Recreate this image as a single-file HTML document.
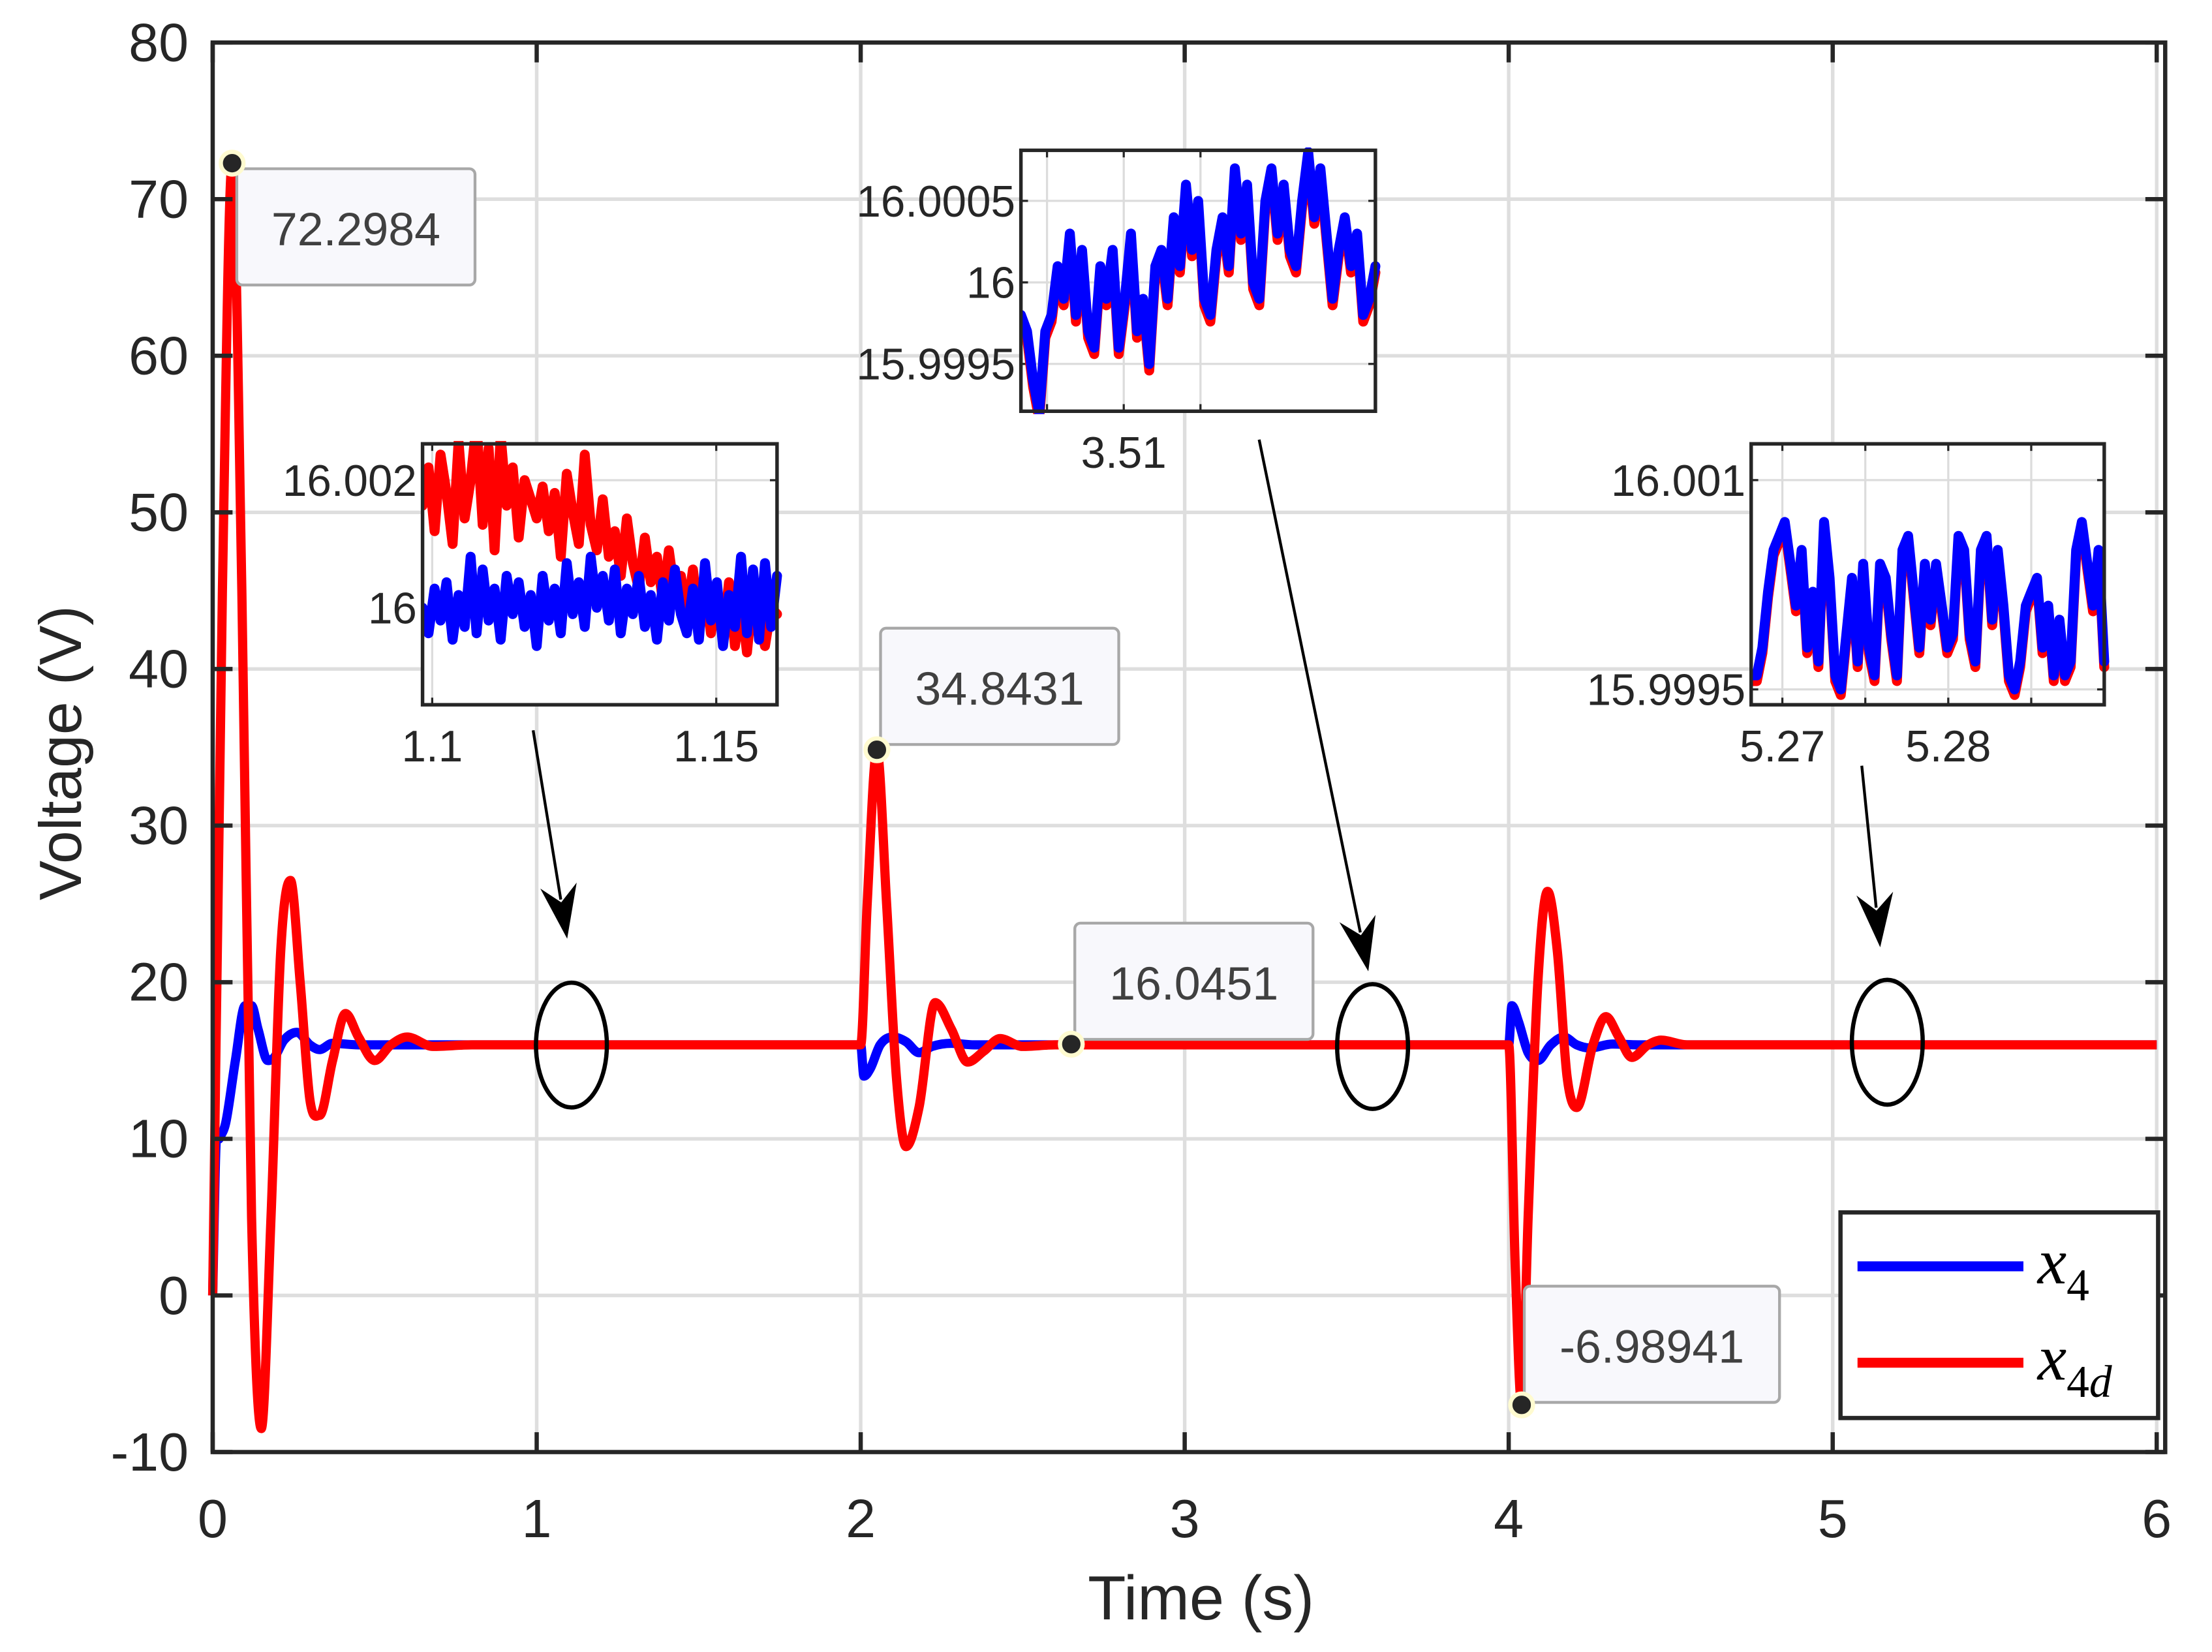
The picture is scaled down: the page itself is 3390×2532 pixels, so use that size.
<!DOCTYPE html>
<html><head><meta charset="utf-8"><style>
html,body{margin:0;padding:0;background:#fff;}
svg{display:block;}
text{font-family:"Liberation Sans",sans-serif;fill:#262626;}
</style></head><body>
<svg id="chart" xmlns="http://www.w3.org/2000/svg" width="3390" height="2532" viewBox="0 0 1560 1165" preserveAspectRatio="none">
<rect x="0" y="0" width="1560" height="1165" fill="#fff"/>
<g id="grid"></g>
<g id="series"></g>
<g id="axes"></g>
<g id="annot"></g>
<g id="insets"></g>
<text x="847" y="1142" font-size="44" text-anchor="middle">Time (s)</text>
<text x="0" y="0" font-size="42" text-anchor="middle" transform="translate(57,531) rotate(-90)">Voltage (V)</text>
<g>
<rect x="1298" y="855" width="224" height="145" fill="#fff" stroke="#262626" stroke-width="3"/>
<line x1="1310" y1="893" x2="1427" y2="893" stroke="#0000ff" stroke-width="7"/>
<line x1="1310" y1="961" x2="1427" y2="961" stroke="#ff0000" stroke-width="7"/>
<text x="1437" y="905" font-size="46" font-style="italic" style="font-family:'Liberation Serif',serif;fill:#000">x<tspan font-size="32" font-style="normal" dy="12">4</tspan></text>
<text x="1437" y="973" font-size="46" font-style="italic" style="font-family:'Liberation Serif',serif;fill:#000">x<tspan font-size="32" font-style="normal" dy="12">4</tspan><tspan font-size="32" font-style="italic">d</tspan></text>
</g>
</svg>
<script>
// ---- main chart data ----
const xTicks=[0,1,2,3,4,5,6];
const yTicks=[-10,0,10,20,30,40,50,60,70,80];
const redT=[0,0.03,0.06,0.09,0.12,0.15,0.18,0.21,0.24,0.27,0.30,0.33,0.37,0.41,0.45,0.50,0.55,0.60,0.68,0.80,2.0,2.02,2.05,2.08,2.11,2.14,2.18,2.23,2.28,2.33,2.38,2.43,2.50,2.6,4.0,4.02,4.04,4.06,4.09,4.12,4.15,4.18,4.21,4.26,4.30,4.34,4.38,4.43,4.47,4.55,6.0];
const redV=[0,45,72.3,45,5,-8.5,5,22,26.5,20,12.5,11.5,15,18,16.5,15,16,16.5,15.9,16,16,25,34.8,25,14,9.5,12,18.7,17,14.9,15.6,16.4,15.9,16,16,2,-7,5,20,25.8,22,14,12,16,17.8,16.5,15.2,16,16.3,16,16];
const blueT=[0,0.01,0.02,0.04,0.07,0.10,0.12,0.14,0.17,0.19,0.22,0.26,0.30,0.33,0.37,0.45,0.6,2.0,2.01,2.03,2.06,2.10,2.14,2.18,2.22,2.28,2.35,4.0,4.01,4.03,4.06,4.09,4.13,4.17,4.21,4.25,4.32,4.4,6.0];
const blueV=[0,9.5,10,11,15,18.5,18.5,17,15,15.2,16.3,16.8,16,15.7,16.1,16,16,16,14,14.5,16,16.5,16.2,15.5,15.9,16.1,16,16,18.5,17.5,15.5,15,16,16.5,16,15.8,16.05,16,16];
const tipT=[0.06,2.05,2.65,4.04];
const tipV=[72.2984,34.8431,16.0451,-6.98941];
const tipLabels=["72.2984","34.8431","16.0451","-6.98941"];
// ---- inset data (deviation from 16 V in units of 1e-4 V) ----
const in1Red=[16,22,12,24,18,10,26,14,20,29,13,25,9,27,16,22,11,20,17,14,19,12,18,8,21,15,10,24,13,9,17,8,12,5,14,7,3,11,4,8,1,9,2,5,-1,6,-3,3,-4,2,-5,4,-6,1,-7,3,-2,-6,0,-1];
const in1Blue=[0,-4,3,-2,4,-5,2,-3,8,-4,6,-2,3,-5,5,-1,4,-3,2,-6,5,-2,3,-4,7,-1,4,-3,8,0,5,-2,6,-4,3,-1,5,-3,2,-5,4,-2,6,-1,-4,3,-5,7,-2,4,-6,2,-3,8,-4,6,-5,7,-3,5];
const in2Blue=[-2,-3,-6,-8,-3,-2,1,-1,3,-2,2,-3,-4,1,-1,2,-4,-1,3,-3,-1,-5,1,2,-1,4,1,6,2,5,-1,-2,2,4,1,7,3,6,0,-1,5,7,3,6,2,1,5,8,4,7,3,-1,2,4,1,3,-2,-1,1];
const in2Red=[-2.4,-3.4,-6.4,-8.4,-3.4,-2.4,0.6,-1.4,2.6,-2.4,1.6,-3.4,-4.4,0.6,-1.4,1.6,-4.4,-1.4,2.6,-3.4,-1.4,-5.4,0.6,1.6,-1.4,3.6,0.6,5.6,1.6,4.6,-1.4,-2.4,1.6,3.6,0.6,6.6,2.6,5.6,-0.4,-1.4,4.6,6.6,2.6,5.6,1.6,0.6,4.6,7.6,3.6,6.6,2.6,-1.4,1.6,3.6,0.6,2.6,-2.4,-1.4,0.6];
const in3Blue=[-4,-4,-2,2,5,6,7,4,1,5,-2,2,-3,7,3,-4,-5,-1,3,-3,4,-2,-4,4,3,-1,-4,5,6,2,-2,4,0,4,1,-2,-1,6,5,-1,-3,5,6,0,5,1,-4,-5,-3,1,2,3,-2,1,-4,0,-4,-3,5,7,4,1,5,-3];
const in3Red=[-4.4,-4.4,-2.4,1.6,4.6,5.6,6.6,3.6,0.6,4.6,-2.4,1.6,-3.4,6.6,2.6,-4.4,-5.4,-1.4,2.6,-3.4,3.6,-2.4,-4.4,3.6,2.6,-1.4,-4.4,4.6,5.6,1.6,-2.4,3.6,-0.4,3.6,0.6,-2.4,-1.4,5.6,4.6,-1.4,-3.4,4.6,5.6,-0.4,4.6,0.6,-4.4,-5.4,-3.4,0.6,1.6,2.6,-2.4,0.6,-4.4,-0.4,-4.4,-3.4,4.6,6.6,3.6,0.6,4.6,-3.4];

const NS='http://www.w3.org/2000/svg';
function mk(tag,attrs,parent){const e=document.createElementNS(NS,tag);for(const k in attrs)e.setAttribute(k,attrs[k]);parent.appendChild(e);return e;}
const L=150,R=1527,T=30,B=1024;
const X0=150,X6=1521;
const xs=t=>X0+t*(X6-X0)/6;
const ys=v=>T+(80-v)*(B-T)/90;
function spline(pts){
  const n=pts.length,m=[];
  for(let i=0;i<n;i++){
    if(i===0)m.push((pts[1][1]-pts[0][1])/(pts[1][0]-pts[0][0]));
    else if(i===n-1)m.push((pts[n-1][1]-pts[n-2][1])/(pts[n-1][0]-pts[n-2][0]));
    else{
      const s0=(pts[i][1]-pts[i-1][1])/(pts[i][0]-pts[i-1][0]);
      const s1=(pts[i+1][1]-pts[i][1])/(pts[i+1][0]-pts[i][0]);
      m.push(s0*s1<=0?0:(s0+s1)/2);
    }
  }
  let d='M'+pts[0][0].toFixed(2)+','+pts[0][1].toFixed(2);
  for(let i=0;i<n-1;i++){
    const dx=(pts[i+1][0]-pts[i][0])/3;
    d+=' C'+(pts[i][0]+dx).toFixed(2)+','+(pts[i][1]+m[i]*dx).toFixed(2)+' '+(pts[i+1][0]-dx).toFixed(2)+','+(pts[i+1][1]-m[i+1]*dx).toFixed(2)+' '+pts[i+1][0].toFixed(2)+','+pts[i+1][1].toFixed(2);
  }
  return d;
}
const grid=document.getElementById('grid'),axes=document.getElementById('axes'),series=document.getElementById('series'),annot=document.getElementById('annot'),insets=document.getElementById('insets');
xTicks.forEach(t=>{
  const gl=mk('line',{x1:xs(t),x2:xs(t),y1:T,y2:B,stroke:'#dedede','stroke-width':2.5},grid);
  
  
  mk('line',{x1:xs(t),x2:xs(t),y1:B,y2:B-14,stroke:'#262626','stroke-width':3},axes);
  mk('line',{x1:xs(t),x2:xs(t),y1:T,y2:T+14,stroke:'#262626','stroke-width':3},axes);
  const tx=mk('text',{x:xs(t),y:1084,'font-size':38,'text-anchor':'middle'},axes);
  tx.textContent=String(t);
  
  
});
yTicks.forEach(v=>{
  if(v>-10&&v<80){
    const gl=mk('line',{x1:L,x2:R,y1:ys(v),y2:ys(v),stroke:'#dedede','stroke-width':2.5},grid);
    
    
  }
  mk('line',{x1:L,x2:L+14,y1:ys(v),y2:ys(v),stroke:'#262626','stroke-width':3},axes);
  mk('line',{x1:R,x2:R-14,y1:ys(v),y2:ys(v),stroke:'#262626','stroke-width':3},axes);
  const tx=mk('text',{x:133,y:ys(v)+13,'font-size':38,'text-anchor':'end'},axes);
  tx.textContent=String(v);
  
  
});
const frame=mk('rect',{x:L,y:T,width:R-L,height:B-T,fill:'none',stroke:'#262626','stroke-width':3},axes);



const bp=blueT.map((t,i)=>[xs(t),ys(blueV[i])]);
const blueLine=mk('path',{d:spline(bp),fill:'none',stroke:'#0000ff','stroke-width':6.5,'stroke-linejoin':'round'},series);


const rp=redT.map((t,i)=>[xs(t),ys(redV[i])]);
const redLine=mk('path',{d:spline(rp),fill:'none',stroke:'#ff0000','stroke-width':6.5,'stroke-linejoin':'round'},series);



const ellipses=[[403,737],[968,738],[1331,735]];
ellipses.forEach(c=>{
  const e=mk('ellipse',{cx:c[0],cy:c[1],rx:25,ry:44,fill:'none',stroke:'#000','stroke-width':3},annot);
  
  
});
const arrows=[[376,515,400,662],[888,310,965,685],[1313,540,1326,668]];
arrows.forEach(a=>{
  const g=mk('g',{},annot);
  
  
  const dx=a[2]-a[0],dy=a[3]-a[1],len=Math.hypot(dx,dy),ux=dx/len,uy=dy/len;
  const bx=a[2]-ux*38,by=a[3]-uy*38;
  mk('line',{x1:a[0],y1:a[1],x2:bx+ux*10,y2:by+uy*10,stroke:'#000','stroke-width':2},g);
  const nx=-uy,ny=ux;
  const pts=[[a[2],a[3]],[bx+nx*13,by+ny*13],[a[2]-ux*26,a[3]-uy*26],[bx-nx*13,by-ny*13]];
  mk('polygon',{points:pts.map(p=>p.join(',')).join(' '),fill:'#000'},g);
});
const tipBoxes=[[167,119,168],[621,443,168],[758,651,168],[1075,907,180]];
tipT.forEach((t,i)=>{
  const g=mk('g',{},annot);
  
  
  const b=tipBoxes[i];
  mk('rect',{x:b[0],y:b[1],width:b[2],height:82,rx:4,fill:'#f8f8fc',stroke:'#a8a8a8','stroke-width':2},g);
  const tx=mk('text',{x:b[0]+b[2]/2,y:b[1]+54,'font-size':33,'text-anchor':'middle',style:'fill:#404040'},g);
  tx.textContent=tipLabels[i];
  mk('circle',{cx:xs(t),cy:ys(tipV[i]),r:8,fill:'#262626',stroke:'#fffbd0','stroke-width':3},g);
});

function drawInset(cfg){
  const g=mk('g',{},insets);
  
  
  const {x,y,w,h,xmin,xmax,ymin,ymax}=cfg;
  const sx=v=>x+(v-xmin)/(xmax-xmin)*w;
  const sy=v=>y+h-(v-ymin)/(ymax-ymin)*h;
  mk('rect',{x:x,y:y,width:w,height:h,fill:'#fff'},g);
  cfg.xgrid.forEach(v=>{mk('line',{x1:sx(v),x2:sx(v),y1:y,y2:y+h,stroke:'#dcdcdc','stroke-width':1.5},g);
    mk('line',{x1:sx(v),x2:sx(v),y1:y+h,y2:y+h-5,stroke:'#262626','stroke-width':1.5},g);
    mk('line',{x1:sx(v),x2:sx(v),y1:y,y2:y+5,stroke:'#262626','stroke-width':1.5},g);});
  cfg.ygrid.forEach(v=>{mk('line',{x1:x,x2:x+w,y1:sy(v),y2:sy(v),stroke:'#dcdcdc','stroke-width':1.5},g);
    mk('line',{x1:x,x2:x+5,y1:sy(v),y2:sy(v),stroke:'#262626','stroke-width':1.5},g);
    mk('line',{x1:x+w,x2:x+w-5,y1:sy(v),y2:sy(v),stroke:'#262626','stroke-width':1.5},g);});
  cfg.xlabels.forEach(l=>{const t=mk('text',{x:sx(l[0]),y:y+h+40,'font-size':31,'text-anchor':'middle'},g);t.textContent=l[1];
    
    });
  cfg.ylabels.forEach(l=>{const t=mk('text',{x:x-4,y:sy(l[0])+11,'font-size':31,'text-anchor':'end'},g);t.textContent=l[1];
    
    });
  const cid='clip'+cfg.name;
  const cp=mk('clipPath',{id:cid},g);mk('rect',{x:x,y:y-2,width:w+4,height:h+4},cp);
  const lines=mk('g',{'clip-path':'url(#'+cid+')'},g);
  cfg.series.forEach(s=>{
    const n=s.data.length;
    const pts=s.data.map((d,i)=>{const t=xmin+(xmax-xmin)*i/(n-1);return [sx(t),sy(16+d*1e-4)];});
    const p=mk('polyline',{points:pts.map(q=>q[0].toFixed(1)+','+q[1].toFixed(1)).join(' '),fill:'none',stroke:s.color,'stroke-width':7,'stroke-linejoin':'round','stroke-linecap':'round'},lines);
    
    
  });
  mk('rect',{x:x,y:y,width:w,height:h,fill:'none',stroke:'#262626','stroke-width':2.5},g);
}
drawInset({name:'inset-1',x:298,y:313,w:250,h:184,xmin:1.0983,xmax:1.1607,ymin:15.99848,ymax:16.00257,
  xgrid:[1.1,1.15],ygrid:[16,16.002],xlabels:[[1.1,'1.1'],[1.15,'1.15']],ylabels:[[16.002,'16.002'],[16,'16']],
  series:[{data:in1Red,color:'#ff0000'},{data:in1Blue,color:'#0000ff'}]});
drawInset({name:'inset-2',x:720,y:106,w:250,h:184,xmin:3.5033,xmax:3.5264,ymin:15.99921,ymax:16.00081,
  xgrid:[3.505,3.51,3.515],ygrid:[15.9995,16,16.0005],xlabels:[[3.51,'3.51']],ylabels:[[16.0005,'16.0005'],[16,'16'],[15.9995,'15.9995']],
  series:[{data:in2Red,color:'#ff0000'},{data:in2Blue,color:'#0000ff'}]});
drawInset({name:'inset-3',x:1235,y:313,w:249,h:184,xmin:5.26812,xmax:5.2894,ymin:15.99939,ymax:16.00126,
  xgrid:[5.27,5.275,5.28,5.285],ygrid:[15.9995,16.001],xlabels:[[5.27,'5.27'],[5.28,'5.28']],ylabels:[[16.001,'16.001'],[15.9995,'15.9995']],
  series:[{data:in3Red,color:'#ff0000'},{data:in3Blue,color:'#0000ff'}]});
</script>
</body></html>
